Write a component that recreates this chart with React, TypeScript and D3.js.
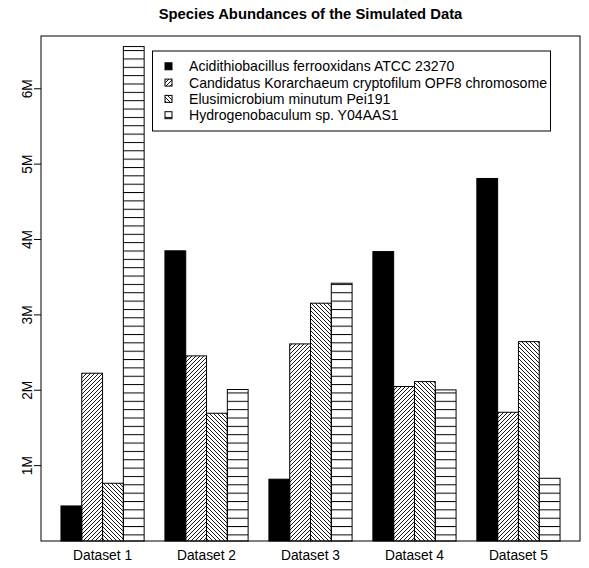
import * as d3 from "d3";

const datasets = ["Dataset 1", "Dataset 2", "Dataset 3", "Dataset 4", "Dataset 5"];
const species = [
  "Acidithiobacillus ferrooxidans ATCC 23270",
  "Candidatus Korarchaeum cryptofilum OPF8 chromosome",
  "Elusimicrobium minutum Pei191",
  "Hydrogenobaculum sp. Y04AAS1",
];
// abundances per species, one value per dataset
const acidithiobacillus = [0.465e6, 3.85e6, 0.82e6, 3.84e6, 4.81e6];
const candidatus = [2.226e6, 2.456e6, 2.615e6, 2.05e6, 1.708e6];
const elusimicrobium = [0.766e6, 1.695e6, 3.155e6, 2.115e6, 2.645e6];
const hydrogenobaculum = [6.56e6, 2.01e6, 3.42e6, 2.005e6, 0.832e6];
const yTicks = [1e6, 2e6, 3e6, 4e6, 5e6, 6e6];

const series = [acidithiobacillus, candidatus, elusimicrobium, hydrogenobaculum];
const fills = ["#000", "url(#hatch45)", "url(#hatch135)", "url(#hatch0)"];

const W = 589;
const H = 568;
const plot = { left: 41, right: 580, top: 36, bottom: 541 };
const font = "'Liberation Sans', Arial, Helvetica, sans-serif";
const fs = 13.8;

export default function App() {
  // R barplot(beside=TRUE, space=c(0,1)) unit layout
  const x = d3.scaleLinear().domain([0.04, 25.96]).range([plot.left, plot.right]);
  const y = d3.scaleLinear().domain([0, 6.7e6]).range([plot.bottom, plot.top]);
  const bw = x(1) - x(0);

  const legend = { x: 152.5, y: 51, w: 398, h: 80, row: 16.3 };

  return (
    <svg width={W} height={H} style={{ position: "absolute", left: 0, top: 0, background: "#fff" }}>
      <defs>
        <pattern id="hatch45" patternUnits="userSpaceOnUse" width={4} height={4}>
          <path d="M-1,1 L1,-1 M0,4 L4,0 M3,5 L5,3" stroke="#000" strokeWidth={0.9} />
        </pattern>
        <pattern id="hatch135" patternUnits="userSpaceOnUse" width={4} height={4}>
          <path d="M-1,3 L1,5 M0,0 L4,4 M3,-1 L5,1" stroke="#000" strokeWidth={0.9} />
        </pattern>
        <pattern id="hatch0" patternUnits="userSpaceOnUse" width={8} height={8.35}>
          <path d="M0,0.5 L8,0.5" stroke="#000" strokeWidth={1} />
        </pattern>
      </defs>
      <rect width={W} height={H} fill="#fff" />

      <text x={(plot.left + plot.right) / 2} y={18.5} textAnchor="middle" fontFamily={font}
        fontWeight="bold" fontSize={14.8}>Species Abundances of the Simulated Data</text>

      {datasets.map((ds, g) => (
        <g key={ds}>
          {series.map((vals, i) => {
            const u = g * 5 + 1 + i;
            return (
              <rect key={i} x={x(u)} y={y(vals[g])} width={bw} height={y(0) - y(vals[g])}
                fill={fills[i]} stroke="#000" strokeWidth={1} />
            );
          })}
          <text x={x(g * 5 + 3)} y={560} textAnchor="middle" fontFamily={font} fontSize={fs}>{ds}</text>
        </g>
      ))}

      <rect x={plot.left} y={plot.top} width={plot.right - plot.left} height={plot.bottom - plot.top}
        fill="none" stroke="#000" strokeWidth={1} />

      {yTicks.map((t) => (
        <g key={t} transform={`translate(${plot.left},${y(t)})`}>
          <line x1={-7} x2={0} stroke="#000" />
          <text transform="translate(-9.5,0) rotate(-90)" textAnchor="middle" fontFamily={font}
            fontSize={fs}>{`${t / 1e6}M`}</text>
        </g>
      ))}

      <rect x={legend.x} y={legend.y} width={legend.w} height={legend.h} fill="#fff" stroke="#000" />
      {species.map((s, i) => {
        const cy = legend.y + 15.3 + i * legend.row;
        return (
          <g key={s}>
            <rect x={165} y={cy - 3.5} width={7} height={7} fill={fills[i]} stroke="#000" />
            <text x={189} y={cy + 5} fontFamily={font} fontSize={14.1}>{s}</text>
          </g>
        );
      })}
    </svg>
  );
}
